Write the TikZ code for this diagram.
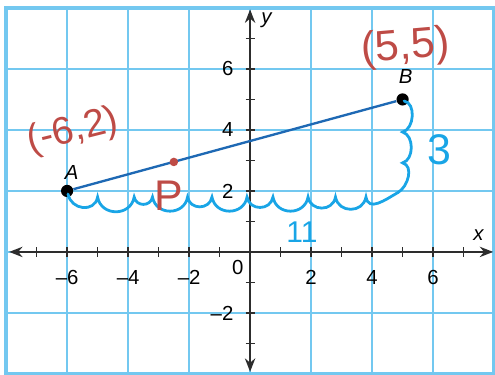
\documentclass[tikz,border=0pt]{standalone}
\usepackage{fontspec}
\setsansfont{Liberation Sans}
\usetikzlibrary{arrows.meta}
\definecolor{gridblue}{RGB}{115,200,240}
\definecolor{axisgray}{RGB}{45,45,45}
\definecolor{segblue}{RGB}{30,105,180}
\definecolor{penblue}{RGB}{25,165,230}
\definecolor{penred}{RGB}{190,75,70}

\begin{document}
\begin{tikzpicture}[x=0.5cm, y=0.5cm,
    every node/.style={font=\sffamily\fontsize{9.5}{11}\selectfont},
    gridline/.style={draw=gridblue, line width=0.9pt},
    ax/.style={draw=axisgray, line width=0.9pt,
               {Stealth[length=2.2mm, width=1.7mm]}-{Stealth[length=2.2mm, width=1.7mm]}},
    tk/.style={draw=axisgray, line width=0.8pt},
    pt/.style={circle, fill=black, minimum size=2mm, inner sep=0pt},
    seg/.style={draw=segblue, line width=1.1pt},
    pen/.style={draw=penblue, line width=1.3pt, line cap=round},
    redpen/.style={text=penred, inner sep=0pt},
    bluepen/.style={text=penblue, inner sep=0pt},
  ]
  \useasboundingbox (-8.2,-4.03) rectangle (8.03,8.26);
  \draw[gridline] (-8,-4) grid (8,8);
  \draw[gridblue, line width=1.6pt] (-8,-4) rectangle (8,8);
  \coordinate (xl) at (-7.9,0);
  \coordinate (xr) at (7.97,0);
  \coordinate (yb) at (0,-3.93);
  \coordinate (yt) at (0,7.95);
  \foreach \i in {-7,...,-1,1,2,...,7}
    \draw[tk] (\i,-0.15) -- (\i,0.15);
  \foreach \i in {-3,...,-1,1,2,...,7}
    \draw[tk] (-0.15,\i) -- (0.15,\i);
  \draw[ax] (xl) -- (xr);
  \draw[ax] (yb) -- (yt);
  \foreach \i/\t in {-6/{–6}, -4/{–4}, -2/{–2}, 2/2, 4/4, 6/6}
    \node (xlab\i) at (\i,-0.85) {\t};
  \foreach \i/\t in {-2/{–2}, 2/2, 4/4, 6/6}
    \node[anchor=east] (ylab\i) at (-0.3,\i) {\t};
  \node (o) at (-0.4,-0.52) {0};
  \node (xname) at (7.5,0.55) {\textit{x}};
  \node (yname) at (0.55,7.6) {\textit{y}};
  \node[pt] (A) at (-6,2) {};
  \node[pt] (B) at (5,5) {};
  \draw[seg] (A) -- (B);
  \node (Alab) at (-5.85,2.62) {\textit{A}};
  \node (Blab) at (5.1,5.75) {\textit{B}};
  \draw[pen] (-5.97,1.9)
    \foreach \b in {-5,-3.8,-3.2,-2.05,-1.25,-0.1,0.75,1.9,2.8,3.8}
      { to[out=-80, in=-100, looseness=1.4] (\b,1.8) }
    to[out=-80, in=-150, looseness=1.2] (4.85,1.95);
  \draw[pen] (5.05,4.95) to[out=-10, in=15] (5,3.93)
    to[out=-15, in=15] (5,2.92) to[out=-15, in=30] (4.85,1.95);
  \node[bluepen, font=\sffamily\fontsize{20}{22}\selectfont] (three) at (6.2,3.35) {3};
  \node[bluepen, font=\sffamily\fontsize{14}{16}\selectfont] (eleven) at (1.7,0.65) {11};
  \fill[penred] (-2.5,2.95) circle (0.14);
  \node[redpen, font=\sffamily\fontsize{20}{22}\selectfont] (P) at (-2.65,1.85) {P};
  \node[redpen, font=\sffamily\fontsize{18}{20}\selectfont, rotate=14] (Acoord) at (-5.8,3.95) {(-6,2)};
  \node[redpen, font=\sffamily\fontsize{20}{22}\selectfont, rotate=5] (Bcoord) at (5.1,6.7) {(5,5)};
\end{tikzpicture}
\end{document}
